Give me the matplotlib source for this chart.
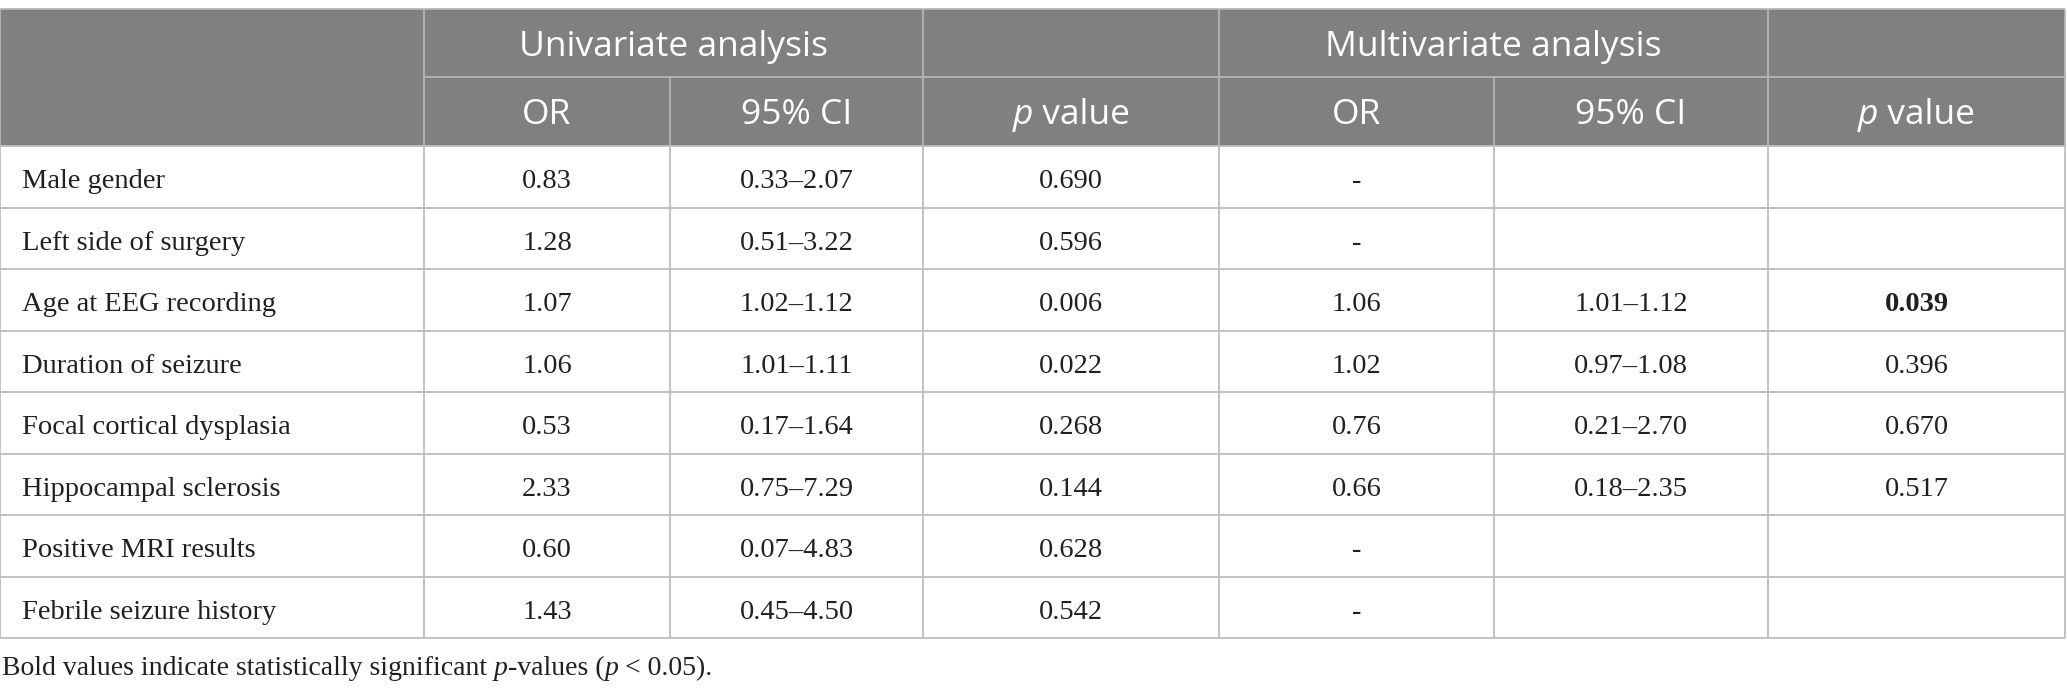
import matplotlib
matplotlib.use("Agg")
import matplotlib.pyplot as plt
import matplotlib.patches as mpatches

# ── table content ────────────────────────────────────────────────────────────
row_labels = [
    "Male gender", "Left side of surgery", "Age at EEG recording",
    "Duration of seizure", "Focal cortical dysplasia", "Hippocampal sclerosis",
    "Positive MRI results", "Febrile seizure history",
]
uni_or = ["0.83", "1.28", "1.07", "1.06", "0.53", "2.33", "0.60", "1.43"]
uni_ci = ["0.33\u20132.07", "0.51\u20133.22", "1.02\u20131.12", "1.01\u20131.11",
          "0.17\u20131.64", "0.75\u20137.29", "0.07\u20134.83", "0.45\u20134.50"]
uni_p = ["0.690", "0.596", "0.006", "0.022", "0.268", "0.144", "0.628", "0.542"]
multi_or = ["-", "-", "1.06", "1.02", "0.76", "0.66", "-", "-"]
multi_ci = ["", "", "1.01\u20131.12", "0.97\u20131.08", "0.21\u20132.70", "0.18\u20132.35", "", ""]
multi_p = ["", "", "0.039", "0.396", "0.670", "0.517", "", ""]
bold_cells = {(2, 5)}   # (row, data column) significant p-values

group_labels = ["Univariate analysis", "Multivariate analysis"]
sub_heads = ["OR", "95% CI", None, "OR", "95% CI", None]   # None -> "p value"

# ── layout (pixels) ──────────────────────────────────────────────────────────
W, H = 2067, 693
col_edges = [0, 424, 670, 923, 1219, 1494, 1768, 2065]
y_top = 9
y_mid = 77
y_head = 146
row_h = 61.5

HEAD_BG = "#808080"
HEAD_LINE = "#b5b5b5"
BODY_LINE = "#bdbdbd"
TEXT = "#231f20"
SANS = "Open Sans"
SERIF = "Liberation Serif"
HEAD_FS = 25.5
BODY_FS = 20.5
NOTE_FS = 20

fig = plt.figure(figsize=(W / 100, H / 100), dpi=100)
fig.patch.set_facecolor("white")
ax = fig.add_axes([0, 0, 1, 1])
ax.set_xlim(0, W)
ax.set_ylim(H, 0)
ax.axis("off")

n = len(row_labels)
y_bottom = y_head + n * row_h

# header background
ax.add_patch(mpatches.Rectangle((col_edges[0], y_top), col_edges[-1] - col_edges[0],
                                y_head - y_top, facecolor=HEAD_BG, edgecolor="none"))


def hline(y, x0, x1, color):
    ax.plot([x0, x1], [y, y], color=color, linewidth=1.3, solid_capstyle="butt")


def vline(x, y0, y1, color):
    ax.plot([x, x], [y0, y1], color=color, linewidth=1.3, solid_capstyle="butt")


renderer = fig.canvas.get_renderer()


def run_of_text(y, parts, size, color, family):
    """Create (text, style) pieces and return them with their widths in data units."""
    arts = [ax.text(0, y, s, fontsize=size, color=color, family=family,
                    style=style, ha="left", va="baseline") for s, style in parts]
    inv = ax.transData.inverted()
    widths = []
    for t in arts:
        bb = t.get_window_extent(renderer=renderer)
        widths.append(inv.transform((bb.x1, 0))[0] - inv.transform((bb.x0, 0))[0])
    return arts, widths


def place_run(x0, arts, widths):
    for t, w in zip(arts, widths):
        t.set_x(x0)
        x0 += w


# header lines
hline(y_top, col_edges[0], col_edges[-1], HEAD_LINE)
hline(y_mid, col_edges[1], col_edges[-1], HEAD_LINE)
for i in [0, 1, 3, 4, 6, 7]:
    vline(col_edges[i], y_top, y_head, HEAD_LINE)
for i in [2, 5]:
    vline(col_edges[i], y_mid, y_head, HEAD_LINE)

# header text
ym1 = (y_top + y_mid) / 2
ym2 = (y_mid + y_head) / 2
ax.text((col_edges[1] + col_edges[3]) / 2, ym1, group_labels[0], fontsize=HEAD_FS,
        color="white", family=SANS, ha="center", va="center_baseline")
ax.text((col_edges[4] + col_edges[6]) / 2, ym1, group_labels[1], fontsize=HEAD_FS,
        color="white", family=SANS, ha="center", va="center_baseline")
for j, s in enumerate(sub_heads):
    xc = (col_edges[j + 1] + col_edges[j + 2]) / 2
    if s is None:
        ref = ax.text(xc, ym2, "OR", fontsize=HEAD_FS, family=SANS,
                      va="center_baseline", alpha=0)
        arts, widths = run_of_text(ym2, [("p", "italic"), (" value", "normal")],
                                   HEAD_FS, "white", SANS)
        for t in arts:
            t.set_va("center_baseline")
        place_run(xc - sum(widths) / 2, arts, widths)
    else:
        ax.text(xc, ym2, s, fontsize=HEAD_FS, color="white", family=SANS,
                ha="center", va="center_baseline")

# body grid
for i in range(n + 1):
    hline(y_head + i * row_h, col_edges[0], col_edges[-1], BODY_LINE)
for x in col_edges:
    vline(x, y_head, y_bottom, BODY_LINE)

# body text
columns = [uni_or, uni_ci, uni_p, multi_or, multi_ci, multi_p]
for i, label in enumerate(row_labels):
    yc = y_head + (i + 0.5) * row_h + 2
    ax.text(col_edges[0] + 22, yc, label, fontsize=BODY_FS, family=SERIF,
            color=TEXT, ha="left", va="center_baseline")
    for j, col in enumerate(columns):
        xc = (col_edges[j + 1] + col_edges[j + 2]) / 2
        ax.text(xc, yc, col[i], fontsize=BODY_FS, family=SERIF, color=TEXT,
                ha="center", va="center_baseline",
                weight="bold" if (i, j) in bold_cells else "normal")

# footnote
arts, widths = run_of_text(675, [("Bold values indicate statistically significant ", "normal"),
                                 ("p", "italic"), ("-values (", "normal"), ("p", "italic"),
                                 (" < 0.05).", "normal")], NOTE_FS, TEXT, SERIF)
place_run(2, arts, widths)

fig.savefig("out.png", dpi=100, facecolor="white")
